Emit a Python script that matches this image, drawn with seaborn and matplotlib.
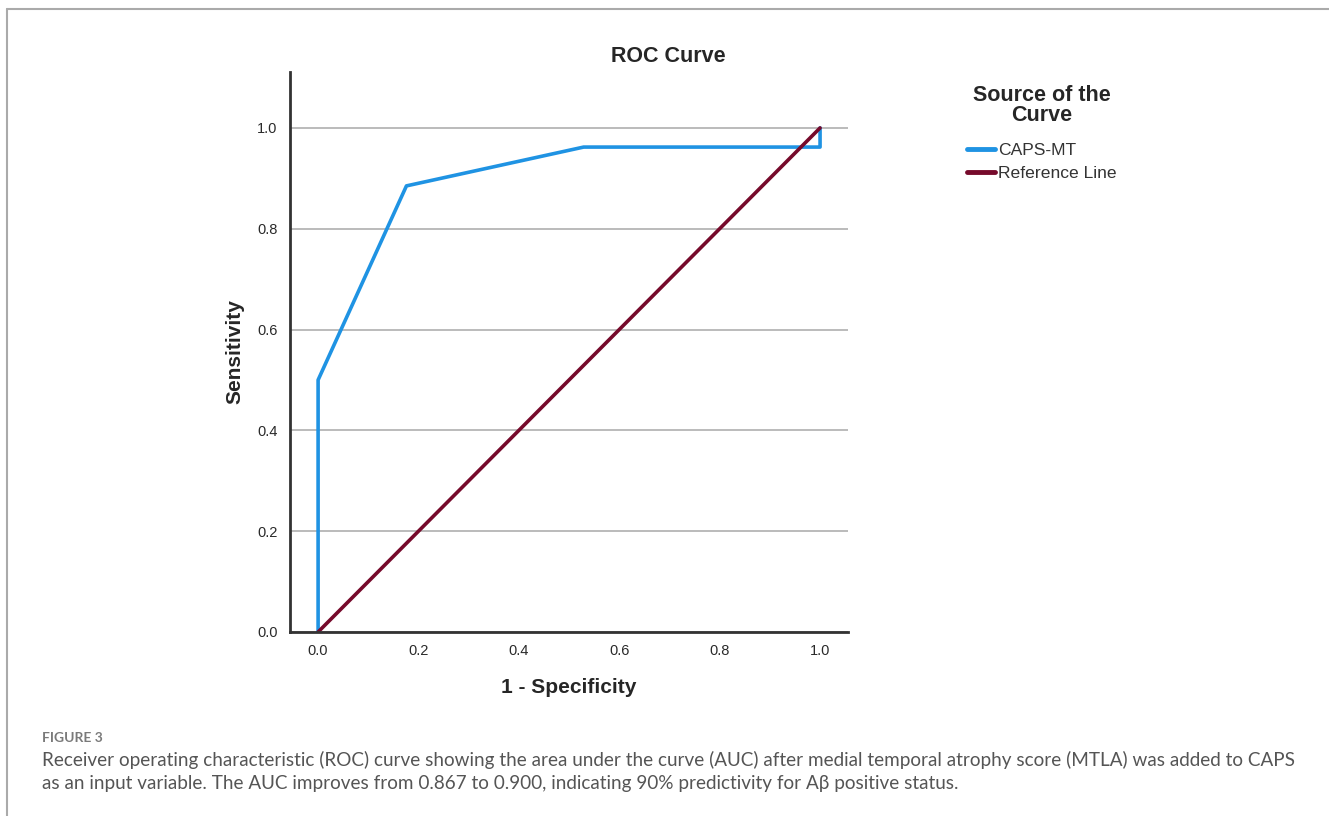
import matplotlib
matplotlib.use("Agg")
from matplotlib import pyplot as plt
from matplotlib.lines import Line2D
import seaborn as sns
import pandas as pd

# ROC points
fpr = [0.0, 0.0, 0.176, 0.529, 1.0, 1.0]
tpr = [0.0, 0.5, 0.885, 0.962, 0.962, 1.0]
ref_x = [0.0, 1.0]
ref_y = [0.0, 1.0]
series_names = ["CAPS-MT", "Reference Line"]
ticks = [0.0, 0.2, 0.4, 0.6, 0.8, 1.0]
tick_labels = ["0.0", "0.2", "0.4", "0.6", "0.8", "1.0"]

caption_head = "FIGURE 3"
caption_lines = [
    "Receiver operating characteristic (ROC) curve showing the area under the curve (AUC) after medial temporal atrophy score (MTLA) was added to CAPS",
    "as an input variable. The AUC improves from 0.867 to 0.900, indicating 90% predictivity for A\u03b2 positive status.",
]

df = pd.DataFrame({
    "x": fpr + ref_x,
    "y": tpr + ref_y,
    "src": [series_names[0]] * len(fpr) + [series_names[1]] * len(ref_x),
})

sns.set_style("white")
plt.rcParams["font.family"] = ["Liberation Sans", "DejaVu Sans"]

fig = plt.figure(figsize=(13.29, 8.16), dpi=100)
ax = fig.add_axes([0.2182, 0.2255, 0.4200, 0.6863])

colors = {"CAPS-MT": "#1f93e3", "Reference Line": "#760a2b"}
sns.lineplot(data=df, x="x", y="y", hue="src", palette=colors, sort=False,
             estimator=None, linewidth=2.6, ax=ax, legend=False)

ax.set_xlim(-0.056, 1.056)
ax.set_ylim(0, 1.111)
ax.set_xticks(ticks)
ax.set_xticklabels(tick_labels)
ax.set_yticks(ticks)
ax.set_yticklabels(tick_labels)
ax.tick_params(axis="both", length=0, labelsize=10.5, colors="#2a2a2a")
ax.tick_params(axis="x", pad=9)
ax.tick_params(axis="y", pad=9)
ax.yaxis.grid(True, color="#b5b5b5", linewidth=1.3)
ax.xaxis.grid(False)
ax.set_axisbelow(True)
for s in ["top", "right"]:
    ax.spines[s].set_visible(False)
for s in ["left", "bottom"]:
    ax.spines[s].set_color("#333333")
    ax.spines[s].set_linewidth(2)

ax.set_xlabel("1 - Specificity", fontsize=15, fontweight="bold", labelpad=14)
ax.set_ylabel("Sensitivity", fontsize=15, fontweight="bold", labelpad=9)

fig.text(0.503, 1 - 56 / 816, "ROC Curve", fontsize=15.5, fontweight="bold",
         ha="center", va="center")

handles = [Line2D([0], [0], color=colors[n], linewidth=3.5) for n in series_names]
leg = fig.legend(handles, series_names, title="Source of the\nCurve",
                 loc="upper left", bbox_to_anchor=(0.7155, 0.915), frameon=False,
                 fontsize=12.6, handlelength=1.6, handletextpad=0.2,
                 labelspacing=0.42)
leg.get_title().set_fontsize(15.5)
leg.get_title().set_fontweight("bold")
leg.get_title().set_multialignment("center")
leg.get_title().set_linespacing(0.95)
leg._legend_box.sep = 12
for t in leg.get_texts():
    t.set_color("#333333")

# caption
fig.text(42 / 1329, 1 - 738 / 816, caption_head, fontsize=10, fontweight="bold",
         color="#7a7a7a", family=["Lato", "DejaVu Sans"], va="center")
for i, line in enumerate(caption_lines):
    fig.text(42 / 1329, 1 - (760 + 23 * i) / 816, line, fontsize=13.6,
             color="#555555", family=["Lato", "DejaVu Sans"], va="center")

# frame
fig.add_artist(Line2D([7 / 1329, 1], [1 - 9 / 816] * 2, transform=fig.transFigure,
                      color="#aaaaaa", linewidth=1.5))
fig.add_artist(Line2D([7 / 1329] * 2, [0, 1 - 9 / 816], transform=fig.transFigure,
                      color="#aaaaaa", linewidth=1.5))

fig.savefig("out.png", dpi=100)
